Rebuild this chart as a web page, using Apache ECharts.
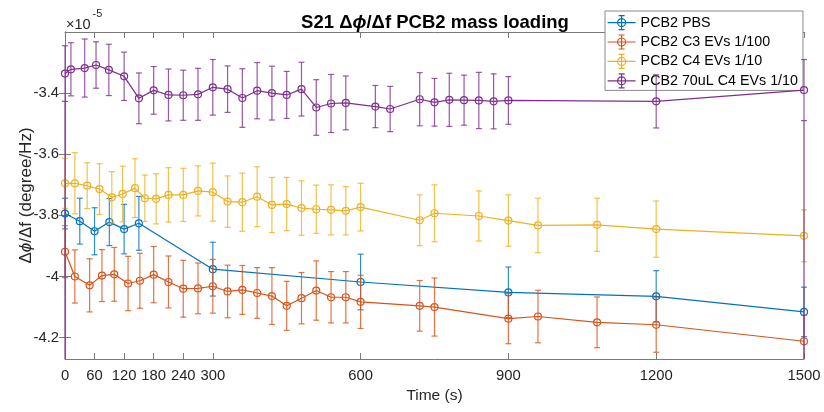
<!DOCTYPE html>
<html>
<head>
<meta charset="utf-8">
<script src="https://cdn.jsdelivr.net/npm/echarts@6/dist/echarts.min.js"></script>
<style>
  html, body { margin: 0; padding: 0; background: #ffffff; }
  #chart { width: 824px; height: 412px; }
</style>
</head>
<body>
<div id="chart"></div>
<script>
// Phase-slope readings, in units of 1e-5 degree/Hz: time (s), mean, error half-width
const blueTime = [0, 30, 60, 90, 120, 150, 300, 600, 900, 1200, 1500];
const blueMean = [-3.794, -3.819, -3.852, -3.822, -3.845, -3.826, -3.976, -4.018, -4.052, -4.065, -4.116];
const blueErr  = [0.050, 0.075, 0.077, 0.077, 0.081, 0.088, 0.088, 0.091, 0.083, 0.084, 0.081];

const orangeTime = [0, 20, 50, 75, 100, 128, 152, 180, 210, 240, 270, 300, 330, 360, 390, 420, 450, 480, 510, 540, 570, 600, 720, 750, 900, 960, 1080, 1200, 1500];
const orangeMean = [-3.919, -4.000, -4.029, -3.997, -3.993, -4.023, -4.014, -3.994, -4.018, -4.040, -4.039, -4.032, -4.049, -4.044, -4.054, -4.064, -4.096, -4.071, -4.046, -4.068, -4.068, -4.083, -4.096, -4.100, -4.138, -4.131, -4.150, -4.158, -4.212];
const orangeErr  = [0.085, 0.087, 0.087, 0.085, 0.088, 0.089, 0.090, 0.092, 0.085, 0.093, 0.083, 0.088, 0.086, 0.080, 0.083, 0.093, 0.080, 0.084, 0.097, 0.084, 0.084, 0.087, 0.083, 0.095, 0.082, 0.086, 0.083, 0.090, 0.085];

const yellowTime = [0, 20, 45, 70, 95, 117, 142, 162, 185, 210, 240, 270, 300, 330, 360, 390, 420, 450, 480, 510, 540, 570, 600, 720, 750, 840, 900, 960, 1080, 1200, 1500];
const yellowMean = [-3.695, -3.695, -3.703, -3.714, -3.741, -3.730, -3.711, -3.744, -3.746, -3.733, -3.733, -3.720, -3.724, -3.755, -3.757, -3.739, -3.766, -3.763, -3.776, -3.780, -3.782, -3.785, -3.773, -3.816, -3.793, -3.802, -3.817, -3.833, -3.831, -3.845, -3.867];
const yellowErr  = [0.082, 0.100, 0.075, 0.083, 0.084, 0.091, 0.096, 0.076, 0.082, 0.089, 0.087, 0.082, 0.095, 0.084, 0.095, 0.098, 0.090, 0.087, 0.089, 0.079, 0.082, 0.079, 0.078, 0.083, 0.093, 0.082, 0.084, 0.089, 0.087, 0.092, 0.085];

const purpleTime = [0, 12, 40, 63, 89, 120, 150, 180, 210, 240, 270, 300, 330, 360, 390, 420, 450, 480, 510, 540, 570, 630, 660, 720, 750, 780, 810, 840, 870, 900, 1200, 1500];
const purpleMean = [-3.336, -3.322, -3.318, -3.308, -3.324, -3.345, -3.417, -3.391, -3.406, -3.407, -3.404, -3.381, -3.387, -3.416, -3.392, -3.400, -3.406, -3.387, -3.447, -3.434, -3.432, -3.444, -3.452, -3.420, -3.430, -3.422, -3.423, -3.424, -3.427, -3.424, -3.427, -3.390];
const purpleErr  = [0.091, 0.087, 0.095, 0.076, 0.084, 0.079, 0.083, 0.078, 0.085, 0.082, 0.085, 0.091, 0.076, 0.096, 0.092, 0.088, 0.077, 0.088, 0.091, 0.095, 0.088, 0.069, 0.074, 0.087, 0.078, 0.087, 0.082, 0.092, 0.090, 0.078, 0.087, 0.100];
// readings whose lower bound falls below the plotted range
const purpleOffScale = [0, 1500];

const seriesNames = ['PCB2 PBS', 'PCB2 C3 EVs 1/100', 'PCB2 C4 EVs 1/10', 'PCB2 70uL C4 EVs 1/10'];
const xTicks = [0, 60, 120, 180, 240, 300, 600, 900, 1200, 1500];
const yTicks = [-4.2, -4, -3.8, -3.6, -3.4];

const X_MIN = 0, X_MAX = 1500;
const Y_MIN = -4.27, Y_MAX = -3.2;
const COLORS = ['#0072BD', '#D95319', '#EDB120', '#7E2F8E'];
const FONT = '"Liberation Sans", Arial, Helvetica, sans-serif';
const TEXT = '#262626';
const AXIS = '#7a7a7a';

const groups = [
  { time: blueTime, mean: blueMean, err: blueErr, tails: [] },
  { time: orangeTime, mean: orangeMean, err: orangeErr, tails: [] },
  { time: yellowTime, mean: yellowMean, err: yellowErr, tails: [] },
  { time: purpleTime, mean: purpleMean, err: purpleErr, tails: purpleOffScale }
];

function errorBars(color, tails) {
  return function (params, api) {
    const t = api.value(0), m = api.value(1), e = api.value(2);
    const hiV = Math.min(m + e, Y_MAX), loV = Math.max(m - e, Y_MIN);
    const hi = api.coord([t, hiV]);
    const lo = api.coord([t, loV]);
    const w = 3;
    const st = { stroke: color, lineWidth: 1.2, opacity: 0.8 };
    const kids = [
      { type: 'line', shape: { x1: hi[0], y1: hi[1], x2: lo[0], y2: lo[1] }, style: st }
    ];
    if (m + e <= Y_MAX) kids.push({ type: 'line', shape: { x1: hi[0] - w, y1: hi[1], x2: hi[0] + w, y2: hi[1] }, style: st });
    if (m - e >= Y_MIN) kids.push({ type: 'line', shape: { x1: lo[0] - w, y1: lo[1], x2: lo[0] + w, y2: lo[1] }, style: st });
    if (tails.indexOf(t) >= 0) {
      const end = api.coord([t, Y_MIN]);
      kids.push({ type: 'line', shape: { x1: lo[0], y1: lo[1], x2: end[0], y2: end[1] },
                  style: { stroke: color, lineWidth: 1.6, opacity: 0.7 } });
    }
    return { type: 'group', children: kids };
  };
}

const series = [];
groups.forEach(function (g, i) {
  const c = COLORS[i];
  series.push({
    type: 'custom',
    name: seriesNames[i],
    renderItem: errorBars(c, g.tails),
    data: g.time.map(function (t, k) { return [t, g.mean[k], g.err[k]]; }),
    clip: false,
    silent: true,
    z: 2 + i * 2
  });
  series.push({
    type: 'line',
    name: seriesNames[i],
    data: g.time.map(function (t, k) { return [t, g.mean[k]]; }),
    symbol: 'circle',
    symbolSize: 7,
    showAllSymbol: true,
    clip: false,
    itemStyle: { color: 'rgba(0,0,0,0)', borderColor: c, borderWidth: 1.2 },
    lineStyle: { color: c, width: 1.2 },
    emphasis: { disabled: true },
    z: 3 + i * 2
  });
});

// legend glyph: line, circle marker and capped error bar
const legendIcon = 'path://M0,7L28,7M14,0L14,14M11,0L17,0M11,14L17,14M18,7A4,4,0,1,1,10,7A4,4,0,1,1,18,7';

const chart = echarts.init(document.getElementById('chart'), null, { renderer: 'canvas' });
chart.setOption({
  animation: false,
  backgroundColor: '#ffffff',
  textStyle: { fontFamily: FONT },
  title: {
    text: '{b|S21 Δ}{bi|ϕ}{b|/Δf PCB2 mass loading}',
    left: 430,
    top: 8,
    textAlign: 'center',
    textStyle: {
      rich: {
        b: { fontFamily: FONT, fontWeight: 'bold', fontSize: 18.5, color: '#000' },
        bi: { fontFamily: FONT, fontWeight: 'bold', fontStyle: 'italic', fontSize: 18.5, color: '#000' }
      }
    }
  },
  graphic: [{
    type: 'text',
    left: 66,
    top: 8,
    style: {
      text: '{a|×10}{s|-5}',
      rich: {
        a: { fontFamily: FONT, fontSize: 14.5, lineHeight: 24, verticalAlign: 'bottom', fill: TEXT },
        s: { fontFamily: FONT, fontSize: 11, lineHeight: 19, verticalAlign: 'top', fill: TEXT, padding: [0, 0, 0, 2] }
      }
    }
  }],
  legend: {
    orient: 'vertical',
    left: 605,
    top: 11,
    padding: [4, 5, 2, 2],
    itemWidth: 28,
    itemHeight: 14,
    itemGap: 4.2,
    backgroundColor: '#ffffff',
    borderColor: '#8a8a8a',
    borderWidth: 1,
    borderRadius: 0,
    textStyle: { fontFamily: FONT, fontSize: 14.3, color: '#000', lineHeight: 14 },
    data: seriesNames.map(function (n, i) {
      return { name: n, icon: legendIcon,
               itemStyle: { color: 'rgba(0,0,0,0)', borderColor: COLORS[i], borderWidth: 1.2 } };
    })
  },
  grid: { left: 65, right: 20, top: 32, bottom: 53, containLabel: false },
  xAxis: [{
    type: 'value',
    position: 'bottom',
    min: X_MIN, max: X_MAX,
    name: 'Time (s)',
    nameLocation: 'middle',
    nameGap: 28,
    nameTextStyle: { fontFamily: FONT, fontSize: 15.5, color: TEXT },
    axisLine: { lineStyle: { color: AXIS, width: 1 } },
    axisTick: { inside: true, length: 6, customValues: xTicks, lineStyle: { color: AXIS } },
    axisLabel: {
      customValues: xTicks, fontFamily: FONT, fontSize: 14.8, color: TEXT, margin: 9, hideOverlap: false,
      formatter: function (v) { return String(v); }
    },
    splitLine: { show: false }
  }, {
    type: 'value',
    position: 'top',
    min: X_MIN, max: X_MAX,
    axisLine: { lineStyle: { color: AXIS, width: 1 } },
    axisTick: { inside: true, length: 6, customValues: xTicks, lineStyle: { color: AXIS } },
    axisLabel: { show: false },
    splitLine: { show: false }
  }],
  yAxis: [{
    type: 'value',
    position: 'left',
    min: Y_MIN, max: Y_MAX,
    name: 'Δ{i|ϕ}/Δf (degree/Hz)',
    nameLocation: 'middle',
    nameGap: 30,
    nameMoveOverlap: false,
    nameTextStyle: {
      fontFamily: FONT, fontSize: 17, color: TEXT,
      rich: { i: { fontFamily: FONT, fontSize: 17, fontStyle: 'italic', color: TEXT } }
    },
    axisLine: { lineStyle: { color: AXIS, width: 1 } },
    axisTick: { inside: true, length: 6, customValues: yTicks, lineStyle: { color: AXIS } },
    axisLabel: {
      customValues: yTicks, fontFamily: FONT, fontSize: 14.8, color: TEXT, margin: 6,
      formatter: function (v) { return String(v); }
    },
    splitLine: { show: false }
  }, {
    type: 'value',
    position: 'right',
    min: Y_MIN, max: Y_MAX,
    axisLine: { show: true, lineStyle: { color: AXIS, width: 1 } },
    axisTick: { inside: true, length: 6, customValues: yTicks, lineStyle: { color: AXIS } },
    axisLabel: { show: false },
    splitLine: { show: false }
  }],
  series: series
});
</script>
</body>
</html>
